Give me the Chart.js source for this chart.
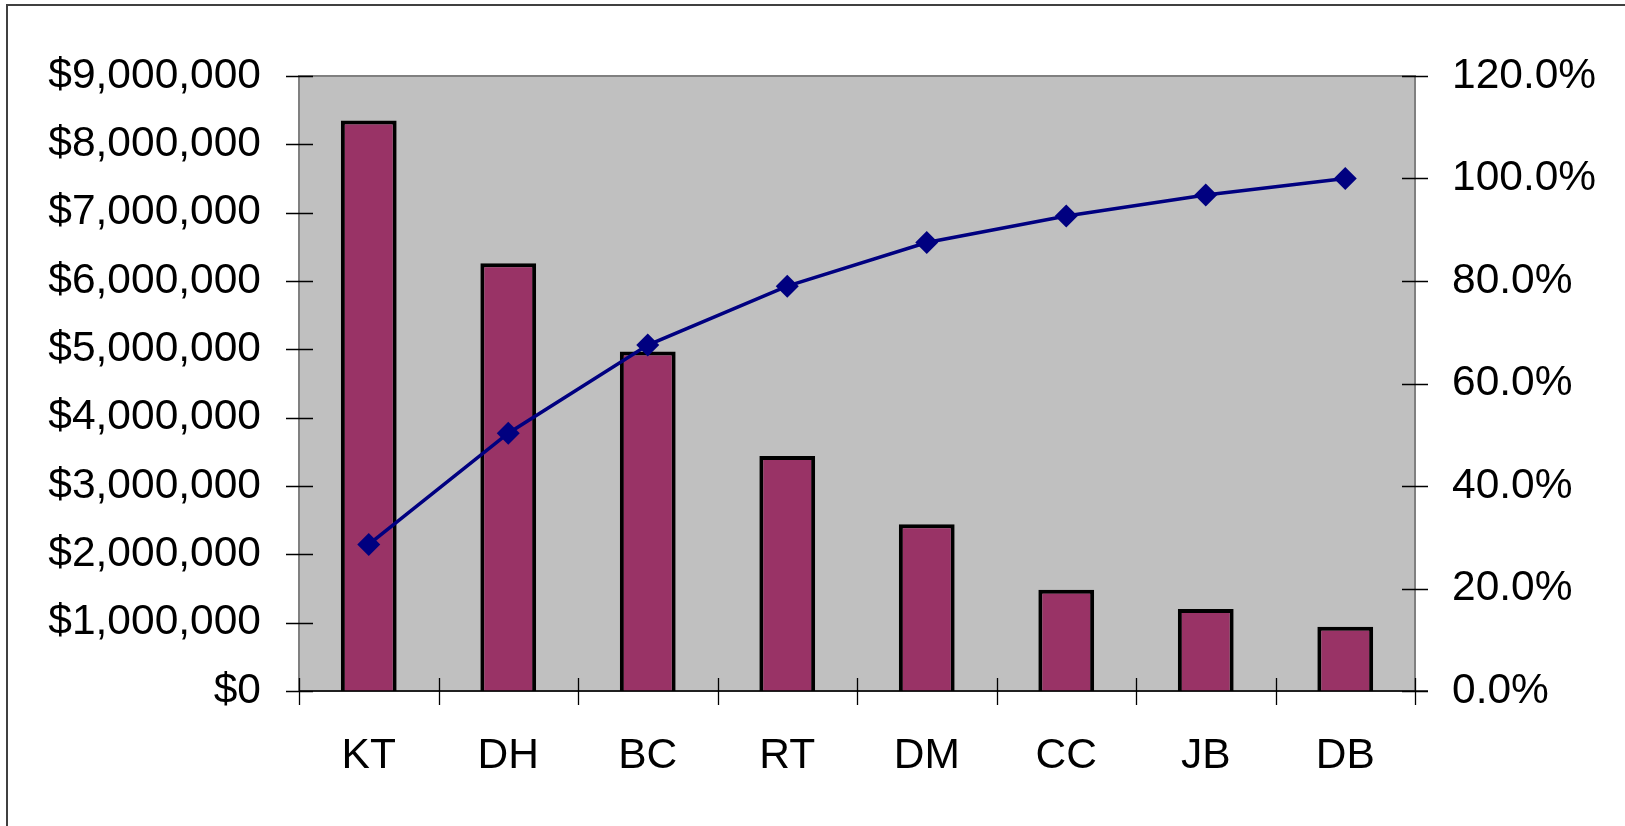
<!DOCTYPE html>
<html><head><meta charset="utf-8">
<script src="https://cdn.jsdelivr.net/npm/chart.js@4"></script>
<style>html,body{margin:0;padding:0;background:#fff;overflow:hidden}#wrap{width:1625px;height:826px}</style>
</head><body><div id="wrap"><canvas id="c" width="1625" height="826"></canvas></div>
<script>
const categories = ['KT','DH','BC','RT','DM','CC','JB','DB'];
const amounts = [8350000, 6260000, 4970000, 3440000, 2440000, 1480000, 1200000, 940000];
const cumulativePct = [28.6, 50.3, 67.5, 79.0, 87.5, 92.7, 96.8, 100.0];
const leftTickLabels = ['$0','$1,000,000','$2,000,000','$3,000,000','$4,000,000','$5,000,000','$6,000,000','$7,000,000','$8,000,000','$9,000,000'];
const rightTickLabels = ['0.0%','20.0%','40.0%','60.0%','80.0%','100.0%','120.0%'];

const FONT = {family: '"Liberation Sans", Arial, sans-serif', size: 42.5};

const decor = {
  id: 'decor',
  beforeDraw(chart) {
    const ctx = chart.ctx, a = chart.chartArea;
    ctx.save();
    ctx.fillStyle = '#fff';
    ctx.fillRect(0, 0, chart.width, chart.height);
    ctx.strokeStyle = '#404040';
    ctx.lineWidth = 2;
    ctx.strokeRect(7, 5, chart.width + 20, chart.height + 20);
    ctx.fillStyle = '#C0C0C0';
    ctx.fillRect(a.left, a.top, a.right - a.left, a.bottom - a.top);
    ctx.strokeStyle = '#808080';
    ctx.lineWidth = 2;
    ctx.strokeRect(a.left, a.top, a.right - a.left, a.bottom - a.top);
    ctx.restore();
  },
  afterDraw(chart) {
    const ctx = chart.ctx, a = chart.chartArea;
    const x = chart.scales.x, y = chart.scales.y, y1 = chart.scales.y1;
    ctx.save();
    ctx.strokeStyle = '#000';
    ctx.lineWidth = 1.3;
    ctx.beginPath();
    ctx.moveTo(a.left, a.bottom); ctx.lineTo(a.right + 13, a.bottom);
    y.ticks.forEach(t => {
      const py = Math.round(y.getPixelForValue(t.value)) + 0.5;
      ctx.moveTo(a.left - 13, py); ctx.lineTo(a.left + 14, py);
    });
    y1.ticks.forEach(t => {
      const py = Math.round(y1.getPixelForValue(t.value)) + 0.5;
      ctx.moveTo(a.right - 13, py); ctx.lineTo(a.right + 13, py);
    });
    for (let i = 0; i <= categories.length; i++) {
      const px = Math.round(x.getPixelForValue(i - 0.5)) + 0.5;
      ctx.moveTo(px, a.bottom - 13); ctx.lineTo(px, a.bottom + 14);
    }
    ctx.stroke();
    ctx.restore();
  }
};

new Chart(document.getElementById('c'), {
  data: {
    labels: categories,
    datasets: [
      {
        type: 'line', label: 'Cumulative %', data: cumulativePct, yAxisID: 'y1', order: 0,
        borderColor: '#000080', borderWidth: 3.5, backgroundColor: '#000080',
        pointStyle: 'rectRot', pointRadius: 11.5, pointBackgroundColor: '#000080',
        pointBorderColor: '#000080', pointBorderWidth: 0, tension: 0
      },
      {
        type: 'bar', label: 'Amount', data: amounts, yAxisID: 'y', order: 1,
        backgroundColor: '#993366', borderColor: '#000', borderWidth: 4,
        barPercentage: 0.4, categoryPercentage: 1.0
      }
    ]
  },
  options: {
    responsive: false, animation: false, devicePixelRatio: 1,
    layout: {padding: {top: 76, left: 0, right: 0, bottom: 0}},
    plugins: {legend: {display: false}, tooltip: {enabled: false}},
    scales: {
      x: {
        type: 'category', offset: true,
        grid: {display: false}, border: {display: false},
        ticks: {font: FONT, color: '#000', padding: 32, maxRotation: 0},
        afterFit(s) { s.height = 135; }
      },
      y: {
        type: 'linear', position: 'left', min: 0, max: 9000000,
        grid: {display: false}, border: {display: false},
        ticks: {stepSize: 1000000, font: FONT, color: '#000', padding: 30,
          callback: (v, i) => leftTickLabels[i]},
        afterFit(s) { s.width = 299; }
      },
      y1: {
        type: 'linear', position: 'right', min: 0, max: 120,
        grid: {display: false}, border: {display: false},
        ticks: {stepSize: 20, font: FONT, color: '#000', padding: 29,
          callback: (v, i) => rightTickLabels[i]},
        afterFit(s) { s.width = 210; }
      }
    }
  },
  plugins: [decor]
});
</script>
</body></html>
